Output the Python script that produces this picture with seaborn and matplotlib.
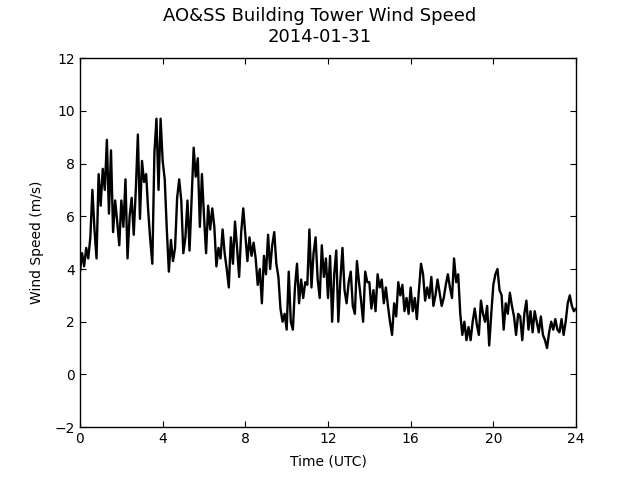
import numpy as np
import pandas as pd
import matplotlib
matplotlib.use("Agg")
import matplotlib.pyplot as plt
import seaborn as sns

hour00 = [3.9, 4.6, 4.1, 4.8, 4.4, 5.2, 7.0, 5.5, 4.4, 7.6]
hour01 = [6.4, 7.8, 7.0, 8.9, 6.1, 8.5, 5.4, 6.6, 5.8, 4.9]
hour02 = [6.6, 5.6, 7.4, 4.4, 6.0, 6.7, 5.3, 7.0, 9.1, 5.9]
hour03 = [8.1, 7.3, 7.6, 6.2, 5.1, 4.2, 8.4, 9.7, 7.0, 9.7]
hour04 = [8.1, 7.4, 5.5, 3.9, 5.1, 4.3, 4.8, 6.7, 7.4, 6.6]
hour05 = [4.6, 5.2, 6.6, 4.7, 6.7, 8.6, 7.5, 8.2, 5.6, 7.6]
hour06 = [6.0, 4.6, 6.4, 5.5, 6.3, 5.6, 4.1, 4.8, 4.4, 5.5]
hour07 = [4.6, 4.0, 3.3, 5.2, 4.2, 5.8, 4.8, 3.7, 5.4, 6.3]
hour08 = [5.3, 4.3, 5.2, 4.5, 5.0, 4.4, 3.4, 4.0, 2.7, 4.5]
hour09 = [3.8, 5.3, 4.0, 4.9, 5.4, 4.2, 3.7, 2.5, 2.0, 2.3]
hour10 = [1.7, 3.9, 2.0, 1.7, 3.3, 4.2, 2.7, 3.6, 2.9, 3.5]
hour11 = [3.4, 5.5, 3.3, 4.6, 5.2, 3.6, 2.9, 4.9, 3.7, 4.4]
hour12 = [2.9, 4.5, 2.0, 3.8, 4.7, 2.0, 3.6, 4.8, 3.2, 2.7]
hour13 = [3.5, 3.9, 2.6, 2.3, 4.3, 3.5, 2.8, 2.0, 3.9, 3.5]
hour14 = [3.5, 2.5, 3.2, 2.4, 3.8, 3.3, 3.6, 2.7, 3.3, 2.6]
hour15 = [2.0, 1.5, 2.7, 2.2, 3.5, 3.0, 3.4, 2.4, 2.9, 2.3]
hour16 = [3.3, 2.4, 2.9, 2.1, 3.2, 4.2, 3.8, 2.8, 3.3, 2.9]
hour17 = [3.7, 2.6, 3.0, 3.6, 3.1, 2.6, 2.9, 3.4, 3.8, 3.3]
hour18 = [2.9, 4.4, 3.5, 3.8, 2.3, 1.5, 2.0, 1.3, 1.8, 1.3]
hour19 = [2.0, 2.5, 1.9, 1.5, 2.8, 2.3, 2.0, 2.6, 1.1, 2.3]
hour20 = [3.4, 3.8, 4.0, 3.2, 3.0, 1.7, 2.7, 2.3, 3.1, 2.6]
hour21 = [2.2, 1.5, 2.3, 2.2, 1.3, 2.3, 2.8, 1.7, 2.4, 1.6]
hour22 = [2.4, 2.0, 1.6, 2.2, 1.5, 1.3, 1.0, 1.6, 2.0, 1.7]
hour23 = [2.1, 1.7, 1.6, 2.1, 1.5, 2.0, 2.7, 3.0, 2.6, 2.4]
hour24 = [2.5]

speed = (hour00 + hour01 + hour02 + hour03 + hour04 + hour05 + hour06 + hour07
         + hour08 + hour09 + hour10 + hour11 + hour12 + hour13 + hour14 + hour15
         + hour16 + hour17 + hour18 + hour19 + hour20 + hour21 + hour22 + hour23
         + hour24)
time_utc = [i / 10 for i in range(len(speed))]

x_ticks = [0, 4, 8, 12, 16, 20, 24]
y_ticks = [-2, 0, 2, 4, 6, 8, 10, 12]

title_text = "AO&SS Building Tower Wind Speed\n2014-01-31"
x_label = "Time (UTC)"
y_label = "Wind Speed (m/s)"

sns.set_style("ticks", rc={
    "xtick.direction": "in", "ytick.direction": "in",
    "xtick.top": True, "ytick.right": True,
    "axes.edgecolor": "black", "xtick.color": "black", "ytick.color": "black",
    "axes.labelcolor": "black", "text.color": "black",
})
plt.rcParams["font.family"] = ["DejaVu Sans"]

df = pd.DataFrame({"time": time_utc, "speed": speed})

fig, ax = plt.subplots(figsize=(6.4, 4.8), dpi=100)
fig.subplots_adjust(left=0.125, right=0.9, top=0.879, bottom=0.11)
sns.lineplot(data=df, x="time", y="speed", color="black", linewidth=1.7, ax=ax)
ax.set_xlim(0, 24)
ax.set_ylim(-2, 12)
ax.set_xticks(x_ticks)
ax.set_yticks(y_ticks)
ax.tick_params(axis="both", labelsize=10, length=4, width=0.8, top=True, right=True, direction="in")
ax.set_xlabel(x_label, fontsize=10, labelpad=6)
ax.set_ylabel(y_label, fontsize=10, labelpad=7.5)
fig.suptitle(title_text, fontsize=13, x=0.5, y=0.985, va="top")
for s in ax.spines.values():
    s.set_visible(True)
    s.set_linewidth(1.0)

fig.savefig("out.png", dpi=100)
